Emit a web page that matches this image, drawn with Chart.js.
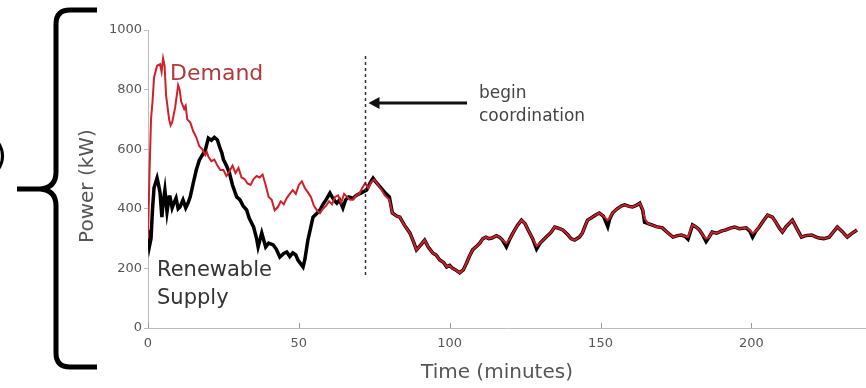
<!DOCTYPE html>
<html>
<head>
<meta charset="utf-8">
<script src="https://cdn.jsdelivr.net/npm/chart.js@4.4.0/dist/chart.umd.min.js"></script>
<style>
  html, body { margin: 0; padding: 0; background: #fff; }
  #wrap { position: relative; width: 866px; height: 388px; }
</style>
</head>
<body>
<div id="wrap"><canvas id="powerChart"></canvas></div>
<script>
"use strict";

// [minute, kW]
const demandPoints = [
  [0, 300], [0.5, 520], [1, 700], [1.5, 760], [2, 840], [3, 880], [4, 885], [4.5, 860],
  [5, 905], [5.5, 880], [6, 780], [7, 700], [7.5, 680], [8, 690], [9, 740], [10, 815],
  [10.5, 800], [11, 760], [12, 735], [12.5, 745], [13, 700], [14, 690], [15, 660], [16, 640],
  [16.5, 625], [17, 610], [18, 600], [19, 580], [19.5, 590], [20, 575], [21, 560], [22, 565],
  [23, 545], [24, 530], [25, 530], [26, 510], [27, 525], [28, 545], [29, 520], [30, 537],
  [31, 505], [32, 500], [33, 485], [34, 480], [35, 500], [36, 510], [37, 505], [38, 515],
  [39, 480], [40, 440], [41, 430], [42, 395], [43, 405], [44, 425], [45, 415], [46, 436],
  [47, 450], [48, 463], [49, 450], [50, 480], [51, 492], [52, 470], [53, 455], [54, 440],
  [55, 410], [56, 395], [57, 385], [58, 400], [59, 410], [60, 425], [61, 415], [62, 440],
  [63, 445], [64, 420], [65, 450], [66, 440], [67, 430], [68, 430], [69, 445], [70, 450],
  [71, 470], [72, 486], [73, 470], [74, 490], [75, 498],
  [77, 470], [78.5, 445], [80, 430], [81, 386], [82.5, 375], [83.5, 372], [85, 345], [86.8, 319],
  [88, 290], [89, 262], [90.5, 280], [91.7, 295], [93, 270], [94.4, 252], [95.5, 245], [96.7, 228],
  [98, 220], [99, 205], [100, 210], [101, 200], [102, 195], [103.3, 185], [104.5, 195], [105.6, 218],
  [106.5, 240], [107.6, 262], [109, 275], [110, 285], [111, 300], [112, 305], [113, 300], [114, 302],
  [115.5, 310], [116.5, 305], [117.5, 295], [118.8, 285], [120, 300], [121, 319], [122.5, 345], [123.8, 362],
  [125, 350], [126, 329], [127.5, 300], [128.8, 275], [130, 285], [132, 305], [133.5, 320], [134.8, 339],
  [136, 335], [137.5, 329], [139, 315], [140.2, 300], [141.4, 295], [143, 305], [144, 319], [145, 345],
  [145.7, 362], [147, 370], [148.5, 380], [149.6, 386], [151, 375], [152.4, 362], [153, 368], [154, 386],
  [155.5, 400], [157, 410], [158, 413], [159.5, 408], [160.6, 406], [162, 412], [163, 419], [164, 398],
  [164.6, 368], [165.8, 350], [167, 346], [168.5, 340], [170.5, 336], [172, 322], [174, 305], [175.5, 310],
  [176.8, 312], [178, 308], [179, 305], [180.5, 346], [181.5, 340], [182.8, 329], [184, 310], [185, 300],
  [186, 305], [187, 322], [188.5, 318], [190, 325], [191.6, 329], [193, 335], [194.4, 339], [196, 333],
  [198.3, 336], [199.5, 328], [200.4, 318], [201.5, 325], [202.6, 339], [204, 360], [205.4, 379], [207, 372],
  [208.3, 352], [209.3, 335], [210.3, 322], [211.5, 340], [213.6, 362], [215, 335], [216.6, 305], [218, 310],
  [220, 312], [221.5, 305], [222.5, 302], [224, 300], [225.8, 305], [227, 320], [228.5, 339], [230, 325],
  [231.8, 305], [233, 315], [235, 329]
];

const supplyPoints = [
  [0, 330], [0.5, 275], [1, 300], [1.5, 400], [2, 470], [3, 503], [3.5, 480], [4, 453],
  [4.6, 372], [5, 420], [5.6, 463], [6.3, 390], [7, 440], [7.3, 440], [8, 403], [8.6, 420],
  [9.3, 436], [10, 400], [10.6, 406], [11.6, 430], [12.5, 403], [13.3, 420], [14, 440], [15, 486],
  [16, 530], [17, 563], [18, 580], [19, 597], [20, 637], [21, 630], [22, 640], [23, 631],
  [24, 600], [24.5, 587], [25, 565], [26, 545], [27, 520], [28, 480], [29.4, 440], [30.5, 430],
  [31.5, 410], [32.7, 396], [33.5, 370], [35, 339], [36, 300], [36.5, 272], [37.7, 319], [38.5, 290],
  [39, 272], [40, 285], [41.5, 279], [42.5, 265], [43.7, 238], [45, 250], [46, 255], [47, 240],
  [48, 252], [49, 245], [49.7, 228], [51.4, 205], [52, 230], [53, 295], [54, 340], [54.7, 372],
  [56, 385], [57, 396], [58, 415], [59, 430], [60.3, 453], [61, 440], [62, 425], [62.6, 419],
  [63.5, 430], [64.6, 403], [65.5, 430], [66.5, 440], [68, 436], [69, 445], [70, 450], [71, 455],
  [72.5, 463], [73.5, 485], [74.6, 503], [75.5, 490],
  [77, 473], [78.5, 455], [80, 440], [81, 386], [82.5, 375], [83.5, 372], [85, 345], [86.8, 319],
  [88, 290], [89, 262], [90.5, 280], [91.7, 295], [93, 270], [94.4, 252], [95.5, 245], [96.7, 228],
  [98, 220], [99, 205], [100, 210], [101, 200], [102, 195], [103.3, 185], [104.5, 195], [105.6, 218],
  [106.5, 240], [107.6, 262], [109, 275], [110, 285], [111, 300], [112, 305], [113, 300], [114, 302],
  [115.5, 310], [116.5, 305], [117.5, 295], [118.8, 272], [120, 300], [121, 319], [122.5, 345], [123.8, 362],
  [125, 350], [126, 329], [127.5, 300], [128.8, 265], [130, 285], [132, 305], [133.5, 320], [134.8, 339],
  [136, 335], [137.5, 329], [139, 315], [140.2, 300], [141.4, 295], [143, 305], [144, 319], [145, 345],
  [145.7, 362], [147, 370], [148.5, 380], [149.6, 386], [151, 375], [152.4, 340], [153, 365], [154, 386],
  [155.5, 400], [157, 410], [158, 413], [159.5, 408], [160.6, 406], [162, 412], [163, 419], [164, 395],
  [164.6, 355], [165.8, 350], [167, 346], [168.5, 340], [170.5, 336], [172, 322], [174, 305], [175.5, 310],
  [176.8, 312], [178, 308], [179, 298], [180.5, 346], [181.5, 340], [182.8, 329], [184, 310], [185, 290],
  [186, 305], [187, 322], [188.5, 318], [190, 325], [191.6, 329], [193, 335], [194.4, 339], [196, 333],
  [198.3, 336], [199.5, 325], [200.4, 305], [201.5, 325], [202.6, 339], [204, 360], [205.4, 379], [207, 372],
  [208.3, 352], [209.3, 335], [210.3, 322], [211.5, 340], [213.6, 362], [215, 335], [216.6, 305], [218, 310],
  [220, 312], [221.5, 305], [222.5, 302], [224, 300], [225.8, 305], [227, 320], [228.5, 339], [230, 325],
  [231.8, 305], [233, 315], [235, 329]
];

const xTickValues = [0, 50, 100, 150, 200];
const coordinationStart = 72; // minutes

const FONT = "'DejaVu Sans', sans-serif";

// extra drawing: axis titles, inline labels, arrow, marker line, brace
const overlayPlugin = {
  id: 'overlay',
  afterDatasetsDraw(chart) {
    const ctx = chart.ctx;
    const x = chart.scales.x;
    const area = chart.chartArea;
    ctx.save();

    // inward x ticks
    ctx.strokeStyle = '#999';
    ctx.lineWidth = 1;
    xTickValues.forEach(v => {
      const px = Math.round(x.getPixelForValue(v)) + 0.5;
      ctx.beginPath();
      ctx.moveTo(px, area.bottom);
      ctx.lineTo(px, area.bottom - 5);
      ctx.stroke();
    });

    // begin coordination dashed line
    const cx = Math.round(x.getPixelForValue(coordinationStart)) + 0.5;
    ctx.strokeStyle = '#333';
    ctx.lineWidth = 1.5;
    ctx.setLineDash([3, 3]);
    ctx.beginPath();
    ctx.moveTo(cx, 56);
    ctx.lineTo(cx, 277);
    ctx.stroke();
    ctx.setLineDash([]);

    // arrow
    ctx.strokeStyle = '#111';
    ctx.fillStyle = '#111';
    ctx.lineWidth = 3;
    ctx.beginPath();
    ctx.moveTo(467, 103);
    ctx.lineTo(cx + 10, 103);
    ctx.stroke();
    ctx.beginPath();
    ctx.moveTo(cx + 3, 103);
    ctx.lineTo(cx + 14, 97);
    ctx.lineTo(cx + 14, 109);
    ctx.closePath();
    ctx.fill();

    // annotations
    ctx.textBaseline = 'alphabetic';
    ctx.textAlign = 'left';
    ctx.fillStyle = '#444';
    ctx.font = '17px ' + FONT;
    ctx.fillText('begin', 479, 98);
    ctx.fillText('coordination', 479, 121);

    ctx.fillStyle = '#b03a3c';
    ctx.font = '22px ' + FONT;
    ctx.fillText('Demand', 170, 80);

    ctx.fillStyle = '#333';
    ctx.font = '21px ' + FONT;
    ctx.fillText('Renewable', 157, 276);
    ctx.fillText('Supply', 157, 304);

    // axis titles
    ctx.fillStyle = '#555';
    ctx.font = '20px ' + FONT;
    ctx.textAlign = 'center';
    ctx.textBaseline = 'middle';
    ctx.fillText('Time (minutes)', 497, 373);
    ctx.save();
    ctx.translate(88, 186);
    ctx.rotate(-Math.PI / 2);
    ctx.fillText('Power (kW)', 0, 0);
    ctx.restore();

    // curly brace on the left
    ctx.strokeStyle = '#000';
    ctx.lineWidth = 5;
    ctx.lineJoin = 'round';
    ctx.lineCap = 'butt';
    ctx.beginPath();
    ctx.moveTo(97, 10);
    ctx.lineTo(70, 10);
    ctx.quadraticCurveTo(56, 10, 56, 24);
    ctx.lineTo(56, 172);
    ctx.quadraticCurveTo(56, 188, 40, 189);
    ctx.lineTo(17, 189);
    ctx.moveTo(40, 189);
    ctx.quadraticCurveTo(56, 190, 56, 206);
    ctx.lineTo(56, 353);
    ctx.quadraticCurveTo(56, 367, 70, 367);
    ctx.lineTo(97, 367);
    ctx.stroke();

    // cut-off parenthesis at the left edge
    ctx.fillStyle = '#000';
    ctx.font = '34px ' + FONT;
    ctx.textAlign = 'right';
    ctx.textBaseline = 'middle';
    ctx.fillText(')', 7, 158);

    ctx.restore();
  }
};

const ctx = document.getElementById('powerChart').getContext('2d');
new Chart(ctx, {
  type: 'line',
  data: {
    datasets: [
      {
        label: 'Demand',
        data: demandPoints.map(p => ({ x: p[0], y: p[1] })),
        borderColor: '#d0202a',
        borderWidth: 2,
        pointRadius: 0,
        tension: 0
      },
      {
        label: 'Renewable Supply',
        data: supplyPoints.map(p => ({ x: p[0], y: p[1] })),
        borderColor: '#000',
        borderWidth: 3.5,
        pointRadius: 0,
        tension: 0
      }
    ]
  },
  options: {
    responsive: true,
    maintainAspectRatio: false,
    animation: false,
    layout: { padding: { top: 30, right: 0, bottom: 0, left: 0 } },
    plugins: {
      legend: { display: false },
      tooltip: { enabled: false }
    },
    scales: {
      x: {
        type: 'linear',
        min: 0,
        max: 238,
        afterBuildTicks(scale) {
          scale.ticks = xTickValues.map(v => ({ value: v }));
        },
        afterFit(scale) { scale.height = 60; },
        grid: { drawOnChartArea: false, drawTicks: false },
        border: { color: '#bbb', width: 1 },
        ticks: {
          padding: 8, color: '#555', font: { family: FONT, size: 13 },
          callback: v => String(v)
        }
      },
      y: {
        min: 0,
        max: 1000,
        afterFit(scale) { scale.width = 148; },
        grid: { drawOnChartArea: false, tickLength: 4, color: '#bbb' },
        border: { color: '#bbb', width: 1 },
        ticks: {
          stepSize: 200, padding: 2, color: '#555', font: { family: FONT, size: 13 },
          callback: v => String(v)
        }
      }
    }
  },
  plugins: [overlayPlugin]
});
</script>
</body>
</html>
